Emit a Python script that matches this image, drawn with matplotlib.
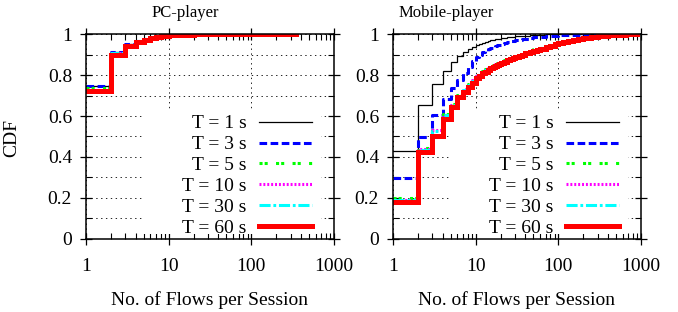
import numpy as np
import matplotlib.pyplot as plt
from matplotlib.patches import Rectangle
from matplotlib.ticker import FixedLocator, NullFormatter, FixedFormatter

plt.rcParams['font.family'] = ['Liberation Serif', 'DejaVu Serif']
plt.rcParams['lines.scale_dashes'] = False

labels = ['T = 1 s', 'T = 3 s', 'T = 5 s', 'T = 10 s', 'T = 30 s', 'T = 60 s']

# PC-player
pc_x = [1, 2, 3, 4, 5, 6, 7, 8, 9, 10, 12, 15, 20, 30, 50, 100, 200, 350]
pc_t1 = [0.745, 0.912, 0.952, 0.968, 0.977, 0.983, 0.987, 0.990, 0.992, 0.994, 0.995, 0.997, 0.998, 0.999, 1.0, 1.0, 1.0, 1.0]
pc_t3 = [0.746, 0.912, 0.951, 0.967, 0.976, 0.982, 0.986, 0.989, 0.991, 0.993, 0.995, 0.997, 0.998, 0.999, 1.0, 1.0, 1.0, 1.0]
pc_t5 = [0.736, 0.908, 0.948, 0.965, 0.975, 0.981, 0.985, 0.989, 0.991, 0.993, 0.995, 0.997, 0.998, 0.999, 1.0, 1.0, 1.0, 1.0]
pc_t10 = [0.729, 0.906, 0.947, 0.964, 0.974, 0.980, 0.985, 0.988, 0.991, 0.993, 0.995, 0.997, 0.998, 0.999, 1.0, 1.0, 1.0, 1.0]
pc_t30 = [0.727, 0.905, 0.946, 0.964, 0.973, 0.980, 0.985, 0.988, 0.991, 0.993, 0.995, 0.996, 0.998, 0.999, 0.999, 1.0, 1.0, 1.0]
pc_t60 = [0.722, 0.900, 0.943, 0.962, 0.972, 0.979, 0.984, 0.988, 0.991, 0.993, 0.994, 0.996, 0.998, 0.999, 0.999, 1.0, 1.0, 1.0]

# Mobile-player
mob_x = [1, 2, 3, 4, 5, 6, 7, 8, 9, 10, 11, 12, 13, 14, 15, 16, 17, 18, 19, 20,
         22, 24, 26, 28, 30, 33, 36, 40, 45, 50, 55, 60, 70, 80, 90, 100,
         115, 130, 150, 175, 200, 250, 300, 400, 500, 650, 800, 900]
mob_t1 = [0.429, 0.654, 0.756, 0.821, 0.862, 0.894, 0.912, 0.925, 0.938, 0.948,
          0.953, 0.958, 0.962, 0.966, 0.969, 0.972, 0.974, 0.976, 0.978, 0.980,
          0.982, 0.984, 0.986, 0.987, 0.988, 0.990, 0.991, 0.992, 0.994, 0.995,
          0.996, 0.997, 0.998, 0.999, 0.999, 1.0, 1.0, 1.0, 1.0, 1.0, 1.0, 1.0,
          1.0, 1.0, 1.0, 1.0, 1.0, 1.0]
mob_t3 = [0.296, 0.499, 0.605, 0.683, 0.735, 0.776, 0.808, 0.840, 0.868, 0.889,
          0.900, 0.910, 0.918, 0.925, 0.931, 0.936, 0.941, 0.945, 0.948, 0.951,
          0.956, 0.960, 0.964, 0.967, 0.970, 0.973, 0.975, 0.978, 0.981, 0.983,
          0.985, 0.986, 0.988, 0.990, 0.992, 0.993, 0.994, 0.995, 0.996, 0.997,
          0.998, 0.999, 1.0, 1.0, 1.0, 1.0, 1.0, 1.0]
mob_t5 = [0.198, 0.442, 0.532, 0.608, 0.658, 0.702, 0.732, 0.755, 0.776, 0.795,
          0.807, 0.818, 0.827, 0.835, 0.842, 0.848, 0.854, 0.859, 0.863, 0.867,
          0.873, 0.879, 0.885, 0.890, 0.894, 0.900, 0.905, 0.912, 0.919, 0.925,
          0.929, 0.933, 0.941, 0.947, 0.953, 0.958, 0.964, 0.969, 0.974, 0.978,
          0.981, 0.986, 0.990, 0.994, 0.997, 0.998, 0.999, 1.0]
mob_t10 = [0.190, 0.440, 0.530, 0.606, 0.656, 0.700, 0.730, 0.753, 0.774, 0.793,
           0.805, 0.816, 0.825, 0.833, 0.840, 0.846, 0.852, 0.857, 0.861, 0.865,
           0.871, 0.877, 0.883, 0.888, 0.892, 0.898, 0.903, 0.910, 0.917, 0.923,
           0.927, 0.931, 0.939, 0.946, 0.952, 0.957, 0.963, 0.968, 0.973, 0.977,
           0.980, 0.985, 0.989, 0.994, 0.997, 0.998, 0.999, 1.0]
mob_t30 = [0.190, 0.435, 0.527, 0.603, 0.653, 0.697, 0.727, 0.750, 0.771, 0.790,
           0.802, 0.813, 0.822, 0.830, 0.837, 0.843, 0.849, 0.854, 0.858, 0.862,
           0.869, 0.875, 0.881, 0.886, 0.890, 0.896, 0.901, 0.908, 0.915, 0.921,
           0.926, 0.930, 0.938, 0.945, 0.951, 0.956, 0.962, 0.967, 0.972, 0.976,
           0.980, 0.985, 0.989, 0.993, 0.996, 0.998, 0.999, 1.0]
mob_t60 = [0.180, 0.423, 0.504, 0.585, 0.642, 0.691, 0.719, 0.743, 0.763, 0.784,
           0.797, 0.808, 0.817, 0.825, 0.832, 0.838, 0.844, 0.849, 0.854, 0.858,
           0.865, 0.872, 0.878, 0.883, 0.888, 0.894, 0.899, 0.906, 0.913, 0.919,
           0.924, 0.929, 0.937, 0.943, 0.949, 0.954, 0.960, 0.965, 0.970, 0.975,
           0.979, 0.984, 0.988, 0.993, 0.996, 0.998, 0.999, 1.0]

styles = [
    dict(color='black', lw=0.9),
    dict(color='#0000ff', lw=2.2, dashes=(5.5, 2.5)),
    dict(color='#00ff00', lw=2.2, dashes=(2.2, 1.5, 2.2, 6)),
    dict(color='#ff00ff', lw=2.2, dashes=(1.4, 1.4)),
    dict(color='#00ffff', lw=2.2, dashes=(8, 2, 2, 2)),
    dict(color='#ff0000', lw=3.6),
]

fig = plt.figure(figsize=(6.78, 3.12), dpi=100)
ax1 = fig.add_axes([0.1268, 0.234, 0.3658, 0.657])
ax2 = fig.add_axes([0.5796, 0.234, 0.3658, 0.657])

panels = [
    (ax1, pc_x, [pc_t1, pc_t3, pc_t5, pc_t10, pc_t30, pc_t60], 'PC-player', 185),
    (ax2, mob_x, [mob_t1, mob_t3, mob_t5, mob_t10, mob_t30, mob_t60], 'Mobile-player', 446),
]

for ax, xs, series, title, tx in panels:
    for ys, lab, st in zip(series, labels, styles):
        ax.plot(xs, ys, drawstyle='steps-post', label=lab, solid_joinstyle='miter', **st)
    ax.set_xscale('log')
    ax.set_xlim(1, 1000)
    ax.set_ylim(0, 1)
    ax.xaxis.set_major_locator(FixedLocator([1, 10, 100, 1000]))
    ax.xaxis.set_major_formatter(FixedFormatter(['1', '10', '100', '1000']))
    minors = [m * d for d in [1, 10, 100] for m in range(2, 10)]
    ax.xaxis.set_minor_locator(FixedLocator(minors))
    ax.xaxis.set_minor_formatter(NullFormatter())
    ax.set_yticks(np.arange(0, 1.01, 0.2))
    ax.set_yticklabels(['0', '0.2', '0.4', '0.6', '0.8', '1'])
    ax.set_yticks(np.arange(0.1, 1.0, 0.2), minor=True)
    ax.tick_params(which='major', direction='inout', length=8, width=0.9,
                   top=True, right=True, labelsize=14)
    ax.tick_params(which='minor', direction='in', length=4, width=0.8,
                   top=True, right=True)
    ax.tick_params(axis='x', which='major', pad=10)
    ax.tick_params(axis='y', which='major', pad=6)
    ax.grid(which='major', axis='x', color='black', lw=0.6, ls=(0, (1, 2.5)))
    ax.grid(which='both', axis='y', color='black', lw=0.6, ls=(0, (1, 2.5)))
    for sp in ax.spines.values():
        sp.set_linewidth(1.1)
    ax.set_xlabel('No. of Flows per Session', fontsize=14)
    ax.xaxis.set_label_coords(0.5, -0.30)
    ax.xaxis.label.set_va('center')
    fig.text(tx / 678, 1 - 13 / 312, title, fontsize=12, ha='center', va='center')
    # white key box hiding the grid behind the legend
    ax.add_patch(Rectangle((0.23, 0.025), 0.716, 0.605, transform=ax.transAxes,
                           facecolor='white', edgecolor='none', zorder=1.8))
    leg = ax.legend(loc='lower right', bbox_to_anchor=(0.918, 0.0), markerfirst=False,
                    fontsize=14, frameon=False, handlelength=2.7,
                    handletextpad=0.65, labelspacing=0.17, borderpad=0.1,
                    borderaxespad=0)
    for t in leg.get_texts():
        t.set_ha('right')
    leg.set_zorder(5)

ax1.set_ylabel('CDF', fontsize=14)
ax1.yaxis.set_label_coords(-0.266, 0.495)

fig.savefig('out.png', dpi=100)
